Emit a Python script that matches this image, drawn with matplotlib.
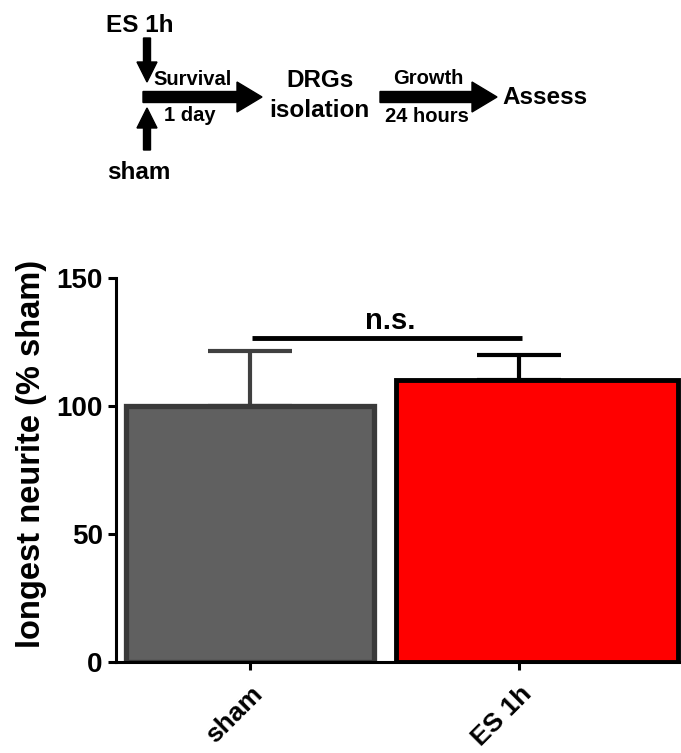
import matplotlib.pyplot as plt
import numpy as np

plt.rcParams['font.family'] = ['Liberation Sans', 'DejaVu Sans']
plt.rcParams['font.weight'] = 'bold'

groups = ['sham', 'ES 1h']
means = [100, 110]
sems = [21.5, 10]
ns_height = 126.5

fig = plt.figure(figsize=(6.81, 7.53), dpi=100)

# bar chart
ax = fig.add_axes([116 / 681, 91 / 753, 565 / 681, 384 / 753])
x = np.arange(len(groups))

ax.errorbar(x[0], means[0], yerr=[[0], [sems[0]]], fmt='none', ecolor='#404040',
            elinewidth=3, capsize=30, capthick=3, zorder=1)
ax.errorbar(x[1], means[1], yerr=[[0], [sems[1]]], fmt='none', ecolor='black',
            elinewidth=3, capsize=30, capthick=3, zorder=1)
ax.bar(x[0] - 0.461, means[0], width=0.922, align='edge', color='#606060',
       edgecolor='#3a3a3a', linewidth=3.8, zorder=2)
ax.bar(x[1] - 0.457, means[1], width=1.048, align='edge', color='#ff0000',
       edgecolor='black', linewidth=3.5, zorder=2)

# significance bar
ax.plot([x[0] + 0.007, x[1] + 0.01], [ns_height, ns_height], color='black', lw=3.5,
        solid_capstyle='butt')
ax.text((x[0] + x[1]) / 2 + 0.02, ns_height + 1.2, 'n.s.', ha='center', va='bottom',
        fontsize=21, fontweight='bold')

ax.set_xlim(-0.498, 1.602)
ax.set_ylim(0, 150)
ax.set_yticks([0, 50, 100, 150])
ax.set_xticks(x)
ax.set_xticklabels(groups, rotation=45, ha='right', rotation_mode='anchor')
ax.tick_params(axis='both', width=2.2, length=6, labelsize=20)
ax.tick_params(axis='x', labelsize=19, pad=8)
for s in ['top', 'right']:
    ax.spines[s].set_visible(False)
for s in ['left', 'bottom']:
    ax.spines[s].set_linewidth(2.2)
ax.set_ylabel('longest neurite (% sham)', fontsize=23.5, fontweight='bold')
ax.yaxis.set_label_coords(-0.122, 0.542)

# timeline diagram on top
top = fig.add_axes([0, 0, 1, 1], facecolor='none')
top.set_xlim(0, 681)
top.set_ylim(753, 0)
top.axis('off')

big = 17.5
small = 14.5
top.text(140, 25, 'ES 1h', ha='center', va='center', fontsize=big, fontweight='bold')
top.text(139, 172, 'sham', ha='center', va='center', fontsize=big, fontweight='bold')
top.arrow(147, 38, 0, 24, width=7, head_width=20, head_length=20, color='black')
top.arrow(147, 150, 0, -22, width=7, head_width=20, head_length=20, color='black')

top.arrow(143, 97, 94, 0, width=11, head_width=30, head_length=25, color='black')
top.text(193, 79, 'Survival', ha='center', va='center', fontsize=small, fontweight='bold')
top.text(190, 115, '1 day', ha='center', va='center', fontsize=small, fontweight='bold')

top.text(320, 80, 'DRGs', ha='center', va='center', fontsize=big, fontweight='bold')
top.text(319, 110, 'isolation', ha='center', va='center', fontsize=big, fontweight='bold')

top.arrow(380, 97, 92, 0, width=11, head_width=30, head_length=25, color='black')
top.text(428, 78, 'Growth', ha='center', va='center', fontsize=small, fontweight='bold')
top.text(427, 116, '24 hours', ha='center', va='center', fontsize=small, fontweight='bold')
top.text(502, 97, 'Assess', ha='left', va='center', fontsize=big, fontweight='bold')

fig.savefig('out.png', dpi=100)
